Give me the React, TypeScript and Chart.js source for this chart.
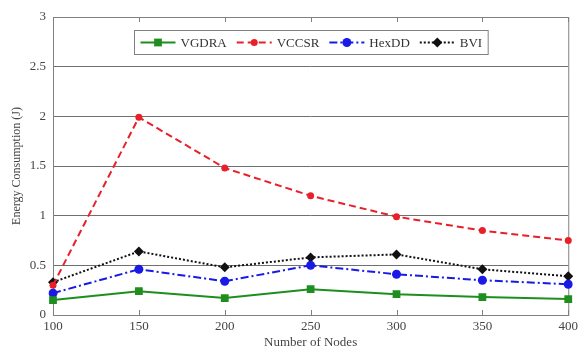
import React, { useEffect, useRef } from 'react';
import { Chart, registerables } from 'chart.js';
Chart.register(...registerables);

const nodes = ['100', '150', '200', '250', '300', '350', '400'];
const vgdra = [0.15, 0.24, 0.17, 0.26, 0.21, 0.18, 0.16];
const vccsr = [0.3, 1.99, 1.48, 1.2, 0.99, 0.85, 0.75];
const hexdd = [0.22, 0.46, 0.34, 0.5, 0.41, 0.35, 0.31];
const bvi = [0.33, 0.64, 0.48, 0.58, 0.61, 0.46, 0.39];
const yMin = 0;
const yMax = 3;
const yStep = 0.5;

const FONT = "'Liberation Serif', 'Times New Roman', serif";

const framePlugin = {
  id: 'frame',
  beforeDatasetsDraw(chart: any) {
    const { ctx, chartArea } = chart;
    const { left, right, top, bottom } = chartArea;
    ctx.save();
    ctx.strokeStyle = '#808080';
    ctx.lineWidth = 1;
    ctx.strokeRect(left + 0.5, top + 0.5, right - left, bottom - top);
    const xs = chart.scales.x;
    ctx.beginPath();
    for (let i = 0; i < nodes.length; i++) {
      const x = Math.round(xs.getPixelForValue(i)) + 0.5;
      ctx.moveTo(x, bottom);
      ctx.lineTo(x, bottom - 5);
      ctx.moveTo(x, top);
      ctx.lineTo(x, top + 5);
    }
    ctx.stroke();
    ctx.restore();
  },
};

const legendPlugin = {
  id: 'boxLegend',
  afterDraw(chart: any) {
    const { ctx, chartArea } = chart;
    ctx.save();
    ctx.font = `13px ${FONT}`;
    const lineLen = 35;
    const gapText = 5;
    const itemGap = 10;
    const pad = 6;
    const items = chart.data.datasets.map((d: any) => ({
      d,
      w: lineLen + gapText + ctx.measureText(d.label).width,
    }));
    const total = items.reduce((s: number, it: any) => s + it.w, 0) + itemGap * (items.length - 1) + pad * 2;
    const cx = (chartArea.left + chartArea.right) / 2;
    const bx = Math.round(cx - total / 2) + 0.5;
    const by = chartArea.top + 13.5;
    const bh = 24;
    ctx.fillStyle = '#ffffff';
    ctx.fillRect(bx, by, total, bh);
    ctx.strokeStyle = '#808080';
    ctx.lineWidth = 1;
    ctx.strokeRect(bx, by, total, bh);
    let x = bx + pad;
    const my = by + bh / 2;
    items.forEach((it: any) => {
      const d = it.d;
      ctx.save();
      ctx.strokeStyle = d.borderColor;
      ctx.lineWidth = d.borderWidth;
      ctx.setLineDash(d.borderDash || []);
      ctx.beginPath();
      ctx.moveTo(x, my);
      ctx.lineTo(x + lineLen, my);
      ctx.stroke();
      ctx.restore();
      ctx.save();
      ctx.fillStyle = d.pointBackgroundColor;
      const px = x + lineLen / 2;
      const r = d.pointRadius;
      ctx.beginPath();
      if (d.pointStyle === 'rect') {
        const s = Math.SQRT1_2 * r;
        ctx.rect(px - s, my - s, 2 * s, 2 * s);
      } else if (d.pointStyle === 'rectRot') {
        ctx.moveTo(px, my - r);
        ctx.lineTo(px + r, my);
        ctx.lineTo(px, my + r);
        ctx.lineTo(px - r, my);
        ctx.closePath();
      } else {
        ctx.arc(px, my, r, 0, Math.PI * 2);
      }
      ctx.fill();
      ctx.restore();
      ctx.fillStyle = '#333';
      ctx.textBaseline = 'middle';
      ctx.textAlign = 'left';
      ctx.fillText(d.label, x + lineLen + gapText, my + 1);
      x += it.w + itemGap;
    });
    ctx.restore();
  },
};

export default function App() {
  const ref = useRef<HTMLCanvasElement>(null);
  useEffect(() => {
    if (!ref.current) return;
    const chart = new Chart(ref.current, {
      type: 'line',
      data: {
        labels: nodes,
        datasets: [
          {
            label: 'VGDRA',
            data: vgdra,
            borderColor: '#1e8f1e',
            borderWidth: 2,
            pointStyle: 'rect',
            pointRadius: 5.5,
            pointBackgroundColor: '#1e8f1e',
            pointBorderColor: '#1e8f1e',
            pointBorderWidth: 0,
          },
          {
            label: 'VCCSR',
            data: vccsr,
            borderColor: '#e8202a',
            borderWidth: 2,
            borderDash: [7, 4],
            pointStyle: 'circle',
            pointRadius: 3.5,
            pointBackgroundColor: '#e8202a',
            pointBorderColor: '#e8202a',
            pointBorderWidth: 0,
          },
          {
            label: 'HexDD',
            data: hexdd,
            borderColor: '#1a1ae6',
            borderWidth: 2,
            borderDash: [8, 3, 2, 3],
            pointStyle: 'circle',
            pointRadius: 4.5,
            pointBackgroundColor: '#1a1ae6',
            pointBorderColor: '#1a1ae6',
            pointBorderWidth: 0,
          },
          {
            label: 'BVI',
            data: bvi,
            borderColor: '#111111',
            borderWidth: 2,
            borderDash: [2, 2],
            pointStyle: 'rectRot',
            pointRadius: 5,
            pointBackgroundColor: '#111111',
            pointBorderColor: '#111111',
            pointBorderWidth: 0,
          },
        ],
      },
      options: {
        animation: false,
        responsive: false,
        devicePixelRatio: 1,
        layout: { padding: { top: 17, right: 9, left: 0, bottom: 0 } },
        plugins: { legend: { display: false }, tooltip: { enabled: false } },
        scales: {
          x: {
            type: 'category',
            offset: false,
            grid: { display: false, drawTicks: false },
            border: { display: false },
            ticks: { color: '#444', font: { family: FONT, size: 13 }, padding: 4, maxRotation: 0, autoSkip: false },
            title: { display: true, text: 'Number of Nodes', color: '#444', font: { family: FONT, size: 13 }, padding: 0 },
            afterFit(scale: any) {
              scale.height = 35;
            },
          },
          y: {
            min: yMin,
            max: yMax,
            ticks: {
              stepSize: yStep,
              color: '#444',
              font: { family: FONT, size: 13 },
              padding: 7,
              callback: (v: any) => String(Number(v)),
            },
            grid: { color: '#707070', lineWidth: 1, drawTicks: false },
            border: { display: false },
            title: { display: true, text: 'Energy Consumption (J)', color: '#444', font: { family: FONT, size: 12 }, padding: { top: 10, bottom: 0 } },
            afterFit(scale: any) {
              scale.width = 53;
            },
          },
        },
      },
      plugins: [framePlugin, legendPlugin],
    });
    return () => chart.destroy();
  }, []);
  return (
    <div style={{ position: 'fixed', left: 0, top: 0, width: 582, height: 350, background: '#fff' }}>
      <canvas ref={ref} width={582} height={350} style={{ width: 582, height: 350 }} />
    </div>
  );
}
